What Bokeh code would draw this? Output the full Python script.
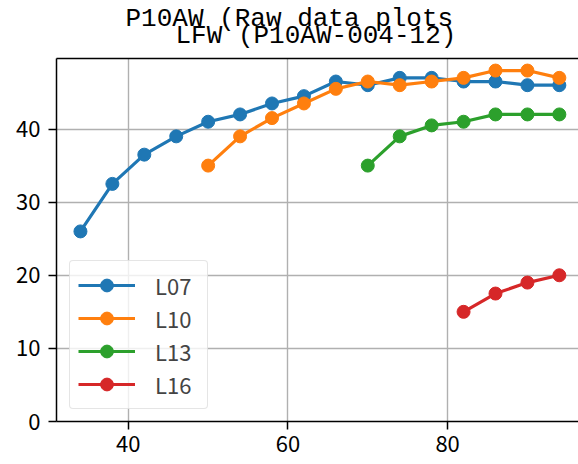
from bokeh.plotting import figure
from bokeh.models import Range1d, FixedTicker, Legend, LegendItem, Title, LinearAxis
from bokeh.embed import file_html
from bokeh.resources import INLINE

# ---- data ----
x_l07 = [34, 38, 42, 46, 50, 54, 58, 62, 66, 70, 74, 78, 82, 86, 90, 94]
y_l07 = [26, 32.5, 36.5, 39, 41, 42, 43.5, 44.5, 46.5, 46, 47, 47, 46.5, 46.5, 46, 46]
x_l10 = [50, 54, 58, 62, 66, 70, 74, 78, 82, 86, 90, 94]
y_l10 = [35, 39, 41.5, 43.5, 45.5, 46.5, 46, 46.5, 47, 48, 48, 47]
x_l13 = [70, 74, 78, 82, 86, 90, 94]
y_l13 = [35, 39, 40.5, 41, 42, 42, 42]
x_l16 = [82, 86, 90, 94]
y_l16 = [15, 17.5, 19, 20]
series_names = ["L07", "L10", "L13", "L16"]
colors = ["#1f77b4", "#ff7f0e", "#2ca02c", "#d62728"]
x_ticks = [40, 60, 80]
y_ticks = [0, 10, 20, 30, 40]
suptitle = "P10AW (Raw data plots"
axes_title = "LFW (P10AW-004-12)"

FONT = "Noto Sans CJK JP"

p = figure(width=578, height=464, output_backend="svg", toolbar_location=None,
           x_range=Range1d(31, 96.4), y_range=Range1d(0, 49.65),
           min_border_left=56, min_border_right=0, min_border_top=58, min_border_bottom=43)
p.outline_line_color = None
p.background_fill_color = "white"
p.border_fill_color = "white"

for ax in (p.xaxis[0], p.yaxis[0]):
    ax.major_label_text_font = FONT
    ax.major_label_text_font_size = "22px"
    ax.major_label_text_color = "black"
    ax.axis_line_color = "black"
    ax.axis_line_width = 1.5
    ax.major_tick_line_color = "black"
    ax.major_tick_line_width = 1.5
    ax.major_tick_out = 8
    ax.major_tick_in = 0
    ax.minor_tick_line_color = None
p.xaxis.ticker = FixedTicker(ticks=x_ticks)
p.yaxis.ticker = FixedTicker(ticks=y_ticks)
p.xaxis.major_label_standoff = 6
p.yaxis.major_label_standoff = 8

top = LinearAxis(ticker=FixedTicker(ticks=[]), major_label_text_font_size="0px",
                 axis_line_color="black", axis_line_width=1.5,
                 major_tick_out=0, major_tick_in=0, major_label_standoff=0,
                 major_tick_line_color=None, minor_tick_line_color=None)
p.add_layout(top, "above")

p.xgrid.ticker = FixedTicker(ticks=x_ticks)
p.ygrid.ticker = FixedTicker(ticks=y_ticks)
for g in (p.xgrid[0], p.ygrid[0]):
    g.grid_line_color = "#b0b0b0"
    g.grid_line_width = 1.4

items = []
for name, xs, ys, c in zip(series_names, [x_l07, x_l10, x_l13, x_l16],
                           [y_l07, y_l10, y_l13, y_l16], colors):
    r1 = p.line(xs, ys, line_color=c, line_width=3.2)
    r2 = p.scatter(xs, ys, size=13, fill_color=c, line_color=c)
    items.append(LegendItem(label=name, renderers=[r1, r2]))

leg = Legend(items=items, location=(13, 12))
leg.label_text_font = FONT
leg.label_text_font_size = "22px"
leg.glyph_width = 57
leg.glyph_height = 32
leg.label_height = 32
leg.label_width = 44
leg.spacing = 1
leg.padding = 8
leg.margin = 0
leg.label_standoff = 20
leg.border_line_color = "#cccccc"
leg.border_line_width = 1.5
leg.border_radius = 4
leg.background_fill_alpha = 0.8
p.add_layout(leg, "center")

t_axes = Title(text=axes_title, align="left", offset=119, standoff=16,
               text_font="Liberation Mono", text_font_size="26px",
               text_font_style="normal", text_color="black")
t_sup = Title(text=suptitle, align="left", offset=69, standoff=-47,
              text_font="Liberation Mono", text_font_size="26px",
              text_font_style="normal", text_color="black")
p.add_layout(t_axes, "above")
p.add_layout(t_sup, "above")

open("out.html", "w").write(file_html(p, INLINE))
